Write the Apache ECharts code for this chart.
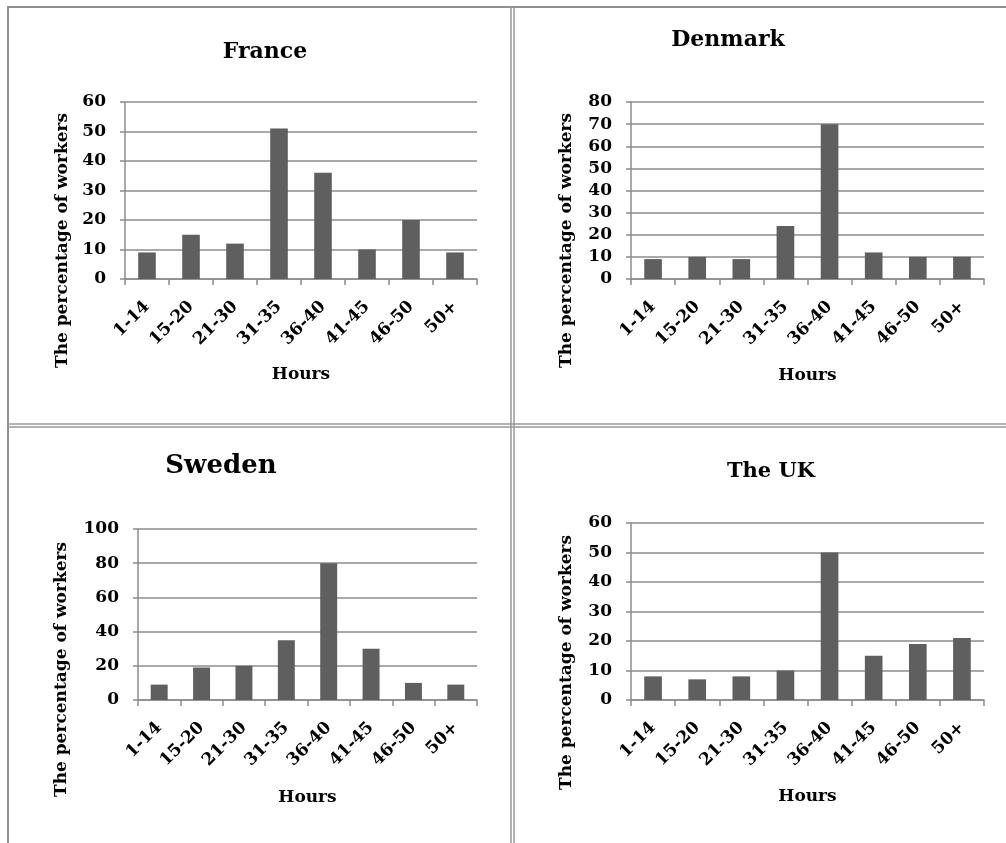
<!DOCTYPE html>
<html>
<head>
<meta charset="utf-8">
<script src="https://cdn.jsdelivr.net/npm/echarts@6/dist/echarts.min.js"></script>
<style>
html,body{margin:0;padding:0;background:#fff;}
#c{width:1006px;height:843px;}
</style>
</head>
<body>
<div id="c"></div>
<script>
var categories = ['1-14','15-20','21-30','31-35','36-40','41-45','46-50','50+'];
var panelTitles = ['France','Denmark','Sweden','The UK'];
var france  = [9, 15, 12, 51, 36, 10, 20, 9];
var denmark = [9, 10, 9, 24, 70, 12, 10, 10];
var sweden  = [9, 19, 20, 35, 80, 30, 10, 9];
var uk      = [8, 7, 8, 10, 50, 15, 19, 21];
var yMax = [60, 80, 100, 60];
var yInterval = [10, 10, 20, 10];
var yAxisName = 'The percentage of workers';
var xAxisName = 'Hours';

var FONT = '"DejaVu Serif", serif';
var seriesData = [france, denmark, sweden, uk];
var grids = [
  {left:125, top:102, width:352, height:177},
  {left:631, top:102, width:353, height:177},
  {left:138, top:529, width:339, height:171},
  {left:631, top:523, width:353, height:177}
];
var titlePos = [
  {x:260, y:47, size:22},
  {x:723, y:35, size:22},
  {x:216, y:461, size:26},
  {x:766, y:467, size:21}
];
var yNameGap = [54, 56, 68, 56];
var yNameShift = [100, 100, 110, 102];
var xNameGap = [87, 88, 89, 88];

var option = {
  animation:false,
  title: panelTitles.map(function(t,i){
    return {text:t, left:titlePos[i].x, top:titlePos[i].y, textAlign:'center', textVerticalAlign:'middle',
      textStyle:{fontFamily:FONT, fontWeight:'bold', fontSize:titlePos[i].size, color:'#000'}};
  }),
  grid: grids,
  xAxis: grids.map(function(g,i){
    return {type:'category', gridIndex:i, data:categories,
      name:xAxisName, nameLocation:'middle', nameGap:xNameGap[i],
      nameTextStyle:{fontFamily:FONT, fontWeight:'bold', fontSize:17, color:'#000'},
      axisLine:{lineStyle:{color:'#8c8c8c', width:1.5}},
      axisTick:{show:true, alignWithLabel:false, length:6, lineStyle:{color:'#8c8c8c', width:1.5}},
      axisLabel:{rotate:45, margin:25, interval:0, fontFamily:FONT, fontWeight:'bold', fontSize:17, color:'#000'}};
  }),
  yAxis: grids.map(function(g,i){
    return {type:'value', gridIndex:i, min:0, max:yMax[i], interval:yInterval[i],
      name:yAxisName, nameLocation:'middle', nameRotate:90, nameGap:yNameGap[i],
      nameTextStyle:{fontFamily:FONT, fontWeight:'bold', fontSize:17, color:'#000', padding:[0, yNameShift[i], 0, 0]},
      axisLine:{show:true, lineStyle:{color:'#8c8c8c', width:1.5}},
      axisTick:{show:true, length:5, lineStyle:{color:'#8c8c8c', width:1.5}},
      axisLabel:{margin:19, fontFamily:FONT, fontWeight:'bold', fontSize:17, color:'#000'},
      splitLine:{show:true, lineStyle:{color:'#8c8c8c', width:1.5}}};
  }),
  series: seriesData.map(function(d,i){
    return {type:'bar', xAxisIndex:i, yAxisIndex:i, data:d, barWidth:'40%',
      itemStyle:{color:'#5f5f5f'}};
  }),
  graphic: [
    {type:'line', shape:{x1:7, y1:7, x2:1006, y2:7}, style:{stroke:'#8f8f8f', lineWidth:2}},
    {type:'line', shape:{x1:8, y1:7, x2:8, y2:843}, style:{stroke:'#8f8f8f', lineWidth:2}},
    {type:'line', shape:{x1:511, y1:7, x2:511, y2:843}, style:{stroke:'#999', lineWidth:1.5}},
    {type:'line', shape:{x1:514, y1:7, x2:514, y2:843}, style:{stroke:'#999', lineWidth:1.5}},
    {type:'line', shape:{x1:7, y1:424, x2:1006, y2:424}, style:{stroke:'#999', lineWidth:1.5}},
    {type:'line', shape:{x1:7, y1:427, x2:1006, y2:427}, style:{stroke:'#999', lineWidth:1.5}}
  ]
};
var chart = echarts.init(document.getElementById('c'), null, {renderer:'canvas'});
chart.setOption(option);
</script>
</body>
</html>
